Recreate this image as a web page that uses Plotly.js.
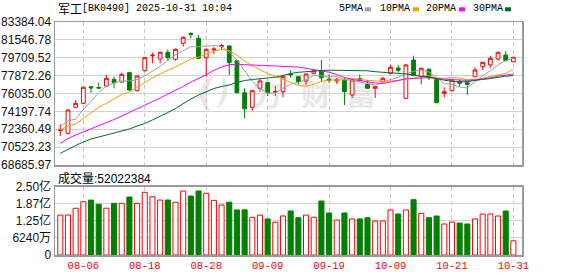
<!DOCTYPE html>
<html>
<head>
<meta charset="utf-8">
<script src="https://cdn.plot.ly/plotly-3.0.1.min.js"></script>
<style>
  html, body { margin: 0; padding: 0; background: #ffffff; }
  #chart { width: 578px; height: 276px; }
</style>
</head>
<body>
<div id="chart"></div>
<script>
// Daily K-line of the 军工 (BK0490) sector index, 2025-08-01 .. 2025-10-31
const dates = ['08-01','08-04','08-05','08-06','08-07','08-08','08-11','08-12','08-13','08-14',
  '08-15','08-18','08-19','08-20','08-21','08-22','08-25','08-26','08-27','08-28',
  '08-29','09-01','09-02','09-03','09-04','09-05','09-08','09-09','09-10','09-11',
  '09-12','09-15','09-16','09-17','09-18','09-19','09-22','09-23','09-24','09-25',
  '09-26','09-29','09-30','10-09','10-10','10-13','10-14','10-15','10-16','10-17',
  '10-20','10-21','10-22','10-23','10-24','10-27','10-28','10-29','10-30','10-31'];

const openPx = [72230,71940,74617,75028,76720,76640,76806,77490,77217,78173,
  76323,78378,79920,79581,80270,79550,81195,82200,81709,79715,
  80520,80880,80917,79407,76118,74617,76570,77146,76190,76220,
  78040,77762,77320,78111,78400,77526,77320,77423,75881,77577,
  76960,76570,77248,78111,78656,75542,79478,77762,78533,77494,
  76056,76323,77248,77146,77762,78790,78965,79581,79992,79304];

const highPx = [72870,74440,75367,76750,76806,77146,77937,77764,78173,78250,
  77900,79800,80229,80330,80578,80650,81880,82325,82048,80681,
  80846,81123,81000,79500,76570,76395,77597,77217,76806,77850,
  78451,77830,78080,78500,79478,77988,77628,77628,77500,77988,
  77423,76806,77731,78965,78965,79067,79920,78707,78605,77600,
  76672,77500,77494,77250,78728,79300,79890,80330,80404,79800];

const lowPx = [71670,71840,74560,74950,76118,76500,76750,76570,77150,76300,
  76250,78300,79139,79139,79407,79407,80846,81709,79600,77762,
  80095,80506,77937,76050,73486,74267,76220,75778,75778,75645,
  77650,76950,76909,78000,77217,77115,77012,74853,75573,77269,
  76498,75573,77166,77988,78194,75521,77834,76981,77423,75050,
  75645,76250,76734,75881,77700,78451,78687,79407,79350,79250];

const closePx = [72290,74339,75028,76672,76620,76600,77597,77146,78008,76395,
  77834,79715,79980,80270,79715,80578,81811,82100,79653,80578,
  80600,80950,79201,76118,74473,76323,77320,76118,76250,77762,
  77960,77249,78040,78368,77649,77392,77494,76241,77423,77371,
  76570,76734,77597,78727,78420,78965,77885,78625,77649,75090,
  76220,77423,77084,76981,78451,79240,79653,80270,79407,79756];

const volume = [146000000,146300000,171000000,195000000,201000000,185500000,171200000,189000000,189300000,212000000,
  189100000,229500000,213000000,201000000,201200000,193000000,234000000,216000000,234300000,226000000,
  200000000,183000000,193200000,165000000,165200000,138000000,146000000,132000000,120000000,143000000,
  161000000,136500000,146100000,138200000,197600000,153700000,128000000,153800000,131800000,131900000,
  136500000,124400000,124500000,164700000,150000000,164800000,202500000,152500000,136600000,142700000,
  113500000,120800000,117000000,113600000,131800000,150000000,150100000,142700000,161000000,52022384];

const ma5 = [72643,73240,73384,74391,75213,76138,76806,77115,77320,77320,
  77454,77834,78327,78810,79448,80013,80424,80845,80845,80938,
  80969,80845,80301,79478,78348,77320,76570,76066,76076,76601,
  77012,77166,77474,77885,77855,77731,77772,77474,77371,77217,
  77063,76909,77166,77474,77690,78070,78307,78451,78245,77628,
  77063,76991,76703,76601,77279,77875,78358,78965,79427,79653];

const ma10 = [72284,72695,72901,73486,74062,74617,75028,75439,75933,76189,
  76673,77217,77628,78060,78389,78759,79170,79592,79777,80095,
  80403,80547,80445,79972,79376,78882,78471,78091,77783,77505,
  77186,76858,76775,76981,77300,77413,77423,77443,77556,77515,
  77382,77330,77279,77320,77392,77556,77598,77834,77855,77628,
  77587,77659,77628,77464,77474,77598,77772,77937,78111,78502];

const ma20 = [70917,71410,71770,72078,72387,72695,73003,73363,73723,74082,
  74442,74802,75162,75573,75984,76344,76755,77217,77577,77957,
  78420,78759,78995,79047,78995,78965,78944,78882,78831,78841,
  78841,78759,78615,78492,78379,78225,77988,77670,77485,77341,
  77217,77115,77063,77217,77403,77526,77587,77659,77680,77556,
  77474,77464,77423,77382,77423,77526,77649,77813,77926,78040];

const ma30 = [69889,70331,70691,71050,71359,71564,71770,71924,72130,72387,
  72695,72952,73312,73671,74082,74494,75008,75470,75881,76241,
  76549,76755,76909,77166,77371,77474,77556,77628,77711,77885,
  78091,78214,78296,78368,78399,78430,78430,78399,78379,78399,
  78368,78276,78194,78142,78101,78050,77916,77803,77731,77556,
  77402,77289,77228,77258,77392,77485,77567,77700,77813,77875];

const priceTickText = ['68685.97','70523.23','72360.49','74197.74','76035.00',
  '77872.26','79709.52','81546.78','83384.04'];
const volTickVals = [0, 62400000, 125000000, 187000000, 250000000];
const volTickText = ['0', '6240万', '1.25亿', '1.87亿', '2.50亿'];
const dateTicks = ['08-06','08-18','08-28','09-09','09-19','10-09','10-21','10-31'];

const maNames = ['5PMA', '10PMA', '20PMA', '30PMA'];
const maColors = ['#a0a0a0', '#f5a000', '#ff00ff', '#006a30'];

// ---- page geometry (pixels) ----
const W = 578, H = 276;
const L = 55, R = 522, T = 22, B = 255;
const mainBottom = 165, volTop = 186.7;
const px = x => (x - L) / (R - L);
const py = y => (B - y) / (B - T);

const UP = '#ff0000', DOWN = '#008000';
const priceTickVals = priceTickText.map(Number);
const isUp = closePx.map((c, i) => c >= openPx[i]);

const traces = [];

traces.push({
  type: 'candlestick', x: dates,
  open: openPx, high: highPx, low: lowPx, close: closePx,
  xaxis: 'x', yaxis: 'y',
  increasing: { line: { color: UP, width: 1 }, fillcolor: '#ffffff' },
  decreasing: { line: { color: DOWN, width: 1 }, fillcolor: DOWN },
  whiskerwidth: 0, hoverinfo: 'skip', showlegend: false
});

[ma5, ma10, ma20, ma30].forEach((arr, k) => {
  traces.push({
    type: 'scatter', mode: 'lines', x: dates, y: arr,
    xaxis: 'x', yaxis: 'y', name: maNames[k],
    line: { color: maColors[k], width: 1 },
    hoverinfo: 'skip', showlegend: false
  });
});

traces.push({
  type: 'bar', x: dates, y: volume, xaxis: 'x', yaxis: 'y2',
  width: 0.66,
  marker: {
    color: isUp.map(u => u ? '#ffffff' : DOWN),
    line: { color: isUp.map(u => u ? UP : DOWN), width: 1 }
  },
  hoverinfo: 'skip', showlegend: false
});

const frame = '#9a9a9a';
const axisFont = { family: 'Liberation Sans, Noto Sans CJK SC, sans-serif', size: 12, color: '#111111' };
const monoFont = { family: 'Liberation Mono, monospace', size: 10, color: '#000000' };
const cjkFont = { family: 'Noto Sans CJK SC, sans-serif', size: 12, color: '#000000' };

const annotations = [
  { text: '军工', x: px(56), y: py(9), xanchor: 'left', yanchor: 'middle', font: cjkFont },
  { text: '[BK0490] 2025-10-31 10:04', x: px(80), y: py(9), xanchor: 'left', yanchor: 'middle', font: monoFont },
  { text: '成交量:52022384', x: px(56), y: py(178), xanchor: 'left', yanchor: 'middle',
    font: { family: 'Liberation Sans, Noto Sans CJK SC, sans-serif', size: 12, color: '#000000' } }
];
const legendX = [337, 378, 424, 471];
const swatchX = [365, 413, 459, 505];
const shapes = [];
maNames.forEach((n, k) => {
  annotations.push({ text: n, x: px(legendX[k]), y: py(9), xanchor: 'left', yanchor: 'middle', font: monoFont });
  shapes.push({ type: 'rect', xref: 'paper', yref: 'paper',
    x0: px(swatchX[k]), x1: px(swatchX[k] + 6), y0: py(11.3), y1: py(7.3),
    fillcolor: maColors[k], line: { width: 0 } });
});
annotations.forEach(a => { a.xref = 'paper'; a.yref = 'paper'; a.showarrow = false; });

// faint logo watermark behind the price panel
const wmColor = '#e8e8e8';
shapes.push({ type: 'path', xref: 'paper', yref: 'paper', layer: 'below',
  xsizemode: 'pixel', ysizemode: 'pixel', xanchor: px(214), yanchor: py(94),
  path: 'M -4,-18 C -19,-7 -17,10 1,20 C -8,8 -9,-5 -4,-18 Z M 3,-15 C 15,-6 16,8 9,18 C 10,6 7,-5 3,-15 Z',
  fillcolor: wmColor, line: { width: 0 } });
[['方', 268], ['财', 316], ['富', 361]].forEach(([ch, cx]) => {
  shapes.push({ type: 'rect', xref: 'paper', yref: 'paper', layer: 'below',
    x0: px(cx - 18), x1: px(cx + 18), y0: py(114), y1: py(80),
    fillcolor: 'rgba(0,0,0,0)', line: { width: 0 },
    label: { text: ch, textposition: 'middle center',
      font: { family: 'Noto Sans CJK SC, sans-serif', size: 30, color: wmColor, weight: 'bold' } } });
});

const layout = {
  width: W, height: H,
  margin: { l: L, r: W - R, t: T, b: H - B, pad: 0 },
  paper_bgcolor: '#ffffff', plot_bgcolor: '#ffffff',
  showlegend: false, boxgap: 0.3, bargap: 0.3,
  xaxis: {
    type: 'category', range: [-0.69, 60.12], anchor: 'y2',
    tickvals: dateTicks, ticktext: dateTicks,
    showgrid: true, gridcolor: '#c8c8c8', griddash: '4px,3px', gridwidth: 1,
    showline: true, linecolor: frame, linewidth: 1.5, mirror: 'all',
    ticks: '', zeroline: false, fixedrange: true,
    tickfont: { family: 'Liberation Mono, monospace', size: 10.5, color: '#ff0000' },
    rangeslider: { visible: false }
  },
  yaxis: {
    domain: [py(mainBottom), 1], range: [priceTickVals[0], priceTickVals[priceTickVals.length - 1]],
    tickvals: priceTickVals, ticktext: priceTickText,
    showgrid: true, gridcolor: '#d2d2d2', gridwidth: 1,
    showline: true, linecolor: frame, linewidth: 1.5, mirror: 'all',
    ticks: '', zeroline: false, fixedrange: true, tickfont: axisFont
  },
  yaxis2: {
    domain: [0, py(volTop)], range: [0, 250000000],
    tickvals: volTickVals, ticktext: volTickText,
    showgrid: true, gridcolor: '#d2d2d2', gridwidth: 1,
    showline: true, linecolor: frame, linewidth: 1.5, mirror: 'all',
    ticks: '', zeroline: false, fixedrange: true, tickfont: axisFont
  },
  annotations: annotations,
  shapes: shapes
};

Plotly.newPlot('chart', traces, layout, { displayModeBar: false, staticPlot: true });
</script>
</body>
</html>
